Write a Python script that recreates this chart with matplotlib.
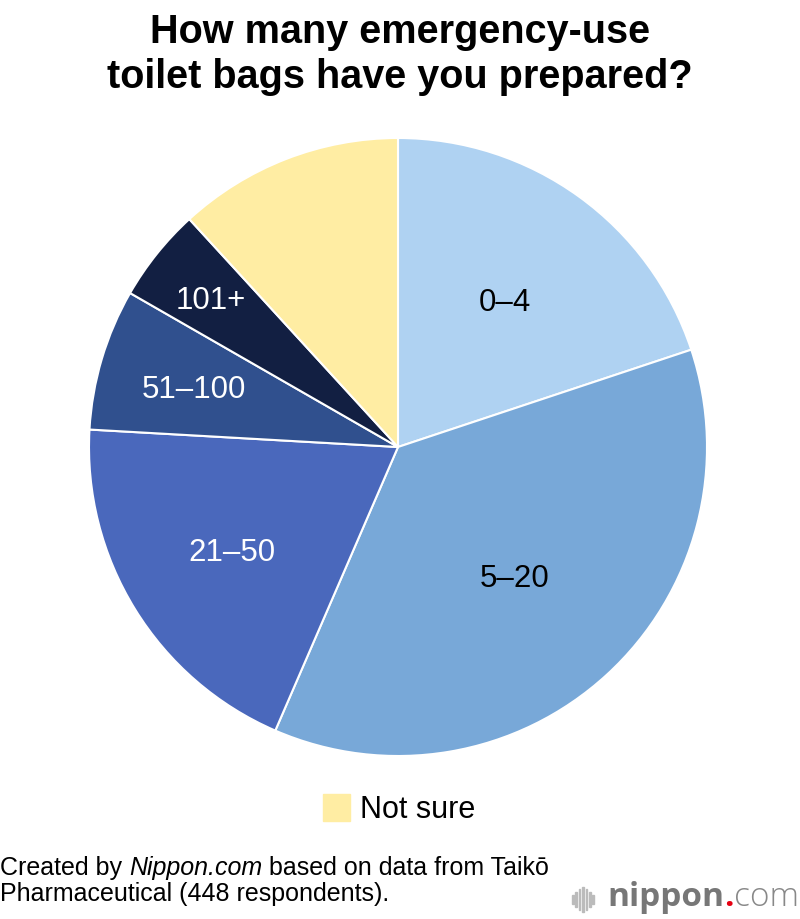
"""Pie chart: emergency-use toilet bags prepared (nippon.com style)"""
import numpy as np
import matplotlib.pyplot as plt
from matplotlib.patches import Rectangle

plt.rcParams["font.family"] = ["Liberation Sans", "DejaVu Sans"]

categories = ["0–4", "5–20", "21–50", "51–100", "101+", "Not sure"]
shares = [19.9, 36.6, 19.4, 7.4, 4.9, 11.8]
colors = ["#AFD2F2", "#78A8D8", "#4A68BC", "#30508E", "#121F42", "#FFEDA3"]
label_colors = ["black", "black", "white", "white", "white", None]
label_radius = [0.59, 0.56, 0.63, 0.69, 0.775, None]

W, H = 800, 920


def fx(px):
    return px / W


def fy(py):
    return 1 - py / H


def main():
    fig = plt.figure(figsize=(8, 9.2), dpi=100)
    ax = fig.add_axes([fx(398 - 309), fy(448 + 309), 618 / W, 618 / H])
    wedges, _ = ax.pie(
        shares,
        colors=colors,
        startangle=90,
        counterclock=False,
        radius=1.0,
        wedgeprops={"edgecolor": "white", "linewidth": 1.5},
    )
    ax.set_xlim(-1, 1)
    ax.set_ylim(-1, 1)
    ax.set_aspect("equal")
    ax.axis("off")

    for w, lab, col, r in zip(wedges, categories, label_colors, label_radius):
        if col is None:
            continue
        mid = np.deg2rad((w.theta1 + w.theta2) / 2)
        ax.annotate(lab, (r * np.cos(mid), r * np.sin(mid)),
                    xytext=(0, -8), textcoords="offset points",
                    color=col, fontsize=22.5, ha="center", va="baseline")

    fig.text(0.5, fy(43), "How many emergency-use", ha="center",
             va="baseline", fontsize=28.5, fontweight="bold")
    fig.text(0.5, fy(88), "toilet bags have you prepared?", ha="center",
             va="baseline", fontsize=28.5, fontweight="bold")

    # legend: only "Not sure"
    fig.patches.append(Rectangle((fx(323), fy(822)), 27 / W, 27 / H,
                                 transform=fig.transFigure, color=colors[-1]))
    fig.text(fx(360), fy(818), categories[-1], fontsize=22,
             ha="left", va="baseline")

    # footer
    fs = 18
    rend = fig.canvas.get_renderer()
    t1 = fig.text(0.0, fy(875), "Created by ", fontsize=fs, va="baseline")
    x = t1.get_window_extent(rend).x1 / fig.bbox.width
    t2 = fig.text(x, fy(875), "Nippon.com", fontsize=fs, va="baseline",
                  style="italic")
    x = t2.get_window_extent(rend).x1 / fig.bbox.width
    fig.text(x, fy(875), " based on data from Taikō", fontsize=fs,
             va="baseline")
    fig.text(0.0, fy(901), "Pharmaceutical (448 respondents).",
             fontsize=fs, va="baseline")

    # logo
    bar_h = [9, 15, 21, 25, 21, 15, 9]
    for i, h in enumerate(bar_h):
        fig.patches.append(Rectangle((fx(572 + i * 3.4), fy(900 + h / 2)),
                                     1.5 / W, h / H, transform=fig.transFigure,
                                     color="#BBBBBB"))
    logo_font = ["Open Sans", "DejaVu Sans"]
    lg = fig.text(fx(607), fy(906), "nippon", fontsize=24, fontweight="bold",
                  color="#777777", va="baseline", family=logo_font)
    x = lg.get_window_extent(rend).x1 / fig.bbox.width
    d = fig.text(x, fy(906), ".", fontsize=24, fontweight="bold",
                 color="#E60012", va="baseline", family=logo_font)
    x = d.get_window_extent(rend).x1 / fig.bbox.width
    fig.text(x, fy(906), "com", fontsize=24, color="#888888", va="baseline",
             family=logo_font, fontweight="light")

    fig.savefig("out.png", dpi=100)


if __name__ == "__main__":
    main()
